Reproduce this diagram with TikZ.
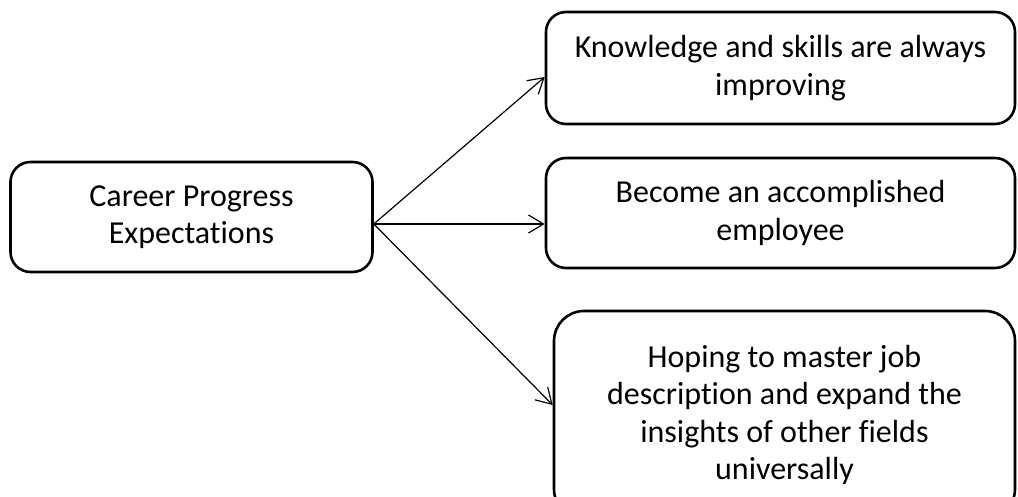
\documentclass[tikz,border=0pt]{standalone}
\usepackage{fontspec}
\setmainfont{Carlito}[Ligatures=NoCommon]
\usetikzlibrary{arrows.meta}
\begin{document}
\begin{tikzpicture}[x=1pt,y=-1pt,
  box/.style={draw, line width=2.6pt, rounded corners=20pt, align=center,
    inner sep=0pt, font=\fontsize{32}{37.5}\selectfont},
  link/.style={line width=1.2pt, -{Straight Barb[length=15pt,width=18pt,line width=1.2pt]}}]
\useasboundingbox (0,0) rectangle (1018,497);
\begin{scope}
\clip (0,0) rectangle (1018,497);
% source box
\node[box, minimum width=362pt, minimum height=110pt] (cpe) at (191.5,217)
  {Career Progress\\Expectations};
% target boxes
\node[box, minimum width=469pt, minimum height=112pt] (know) at (780.5,68)
  {Knowledge and skills are always\\improving};
\node[box, minimum width=469pt, minimum height=110pt] (emp) at (780.5,213)
  {Become an accomplished\\employee};
\node[box, rounded corners=30pt, minimum width=461pt, minimum height=208pt] (mast) at (784.5,415)
  {Hoping to master job\\description and expand the\\insights of other fields\\universally};
\end{scope}
% connectors
\coordinate (src) at ([yshift=-7pt]cpe.east);
\coordinate (t1) at ([yshift=-9pt]know.west);
\coordinate (t2) at ([yshift=-11pt]emp.west);
\coordinate (t3) at ([yshift=10pt]mast.west);
\draw[link] (src) -- (t1);
\draw[link] (src) -- (t2);
\draw[link] (src) -- (t3);
\end{tikzpicture}
\end{document}
